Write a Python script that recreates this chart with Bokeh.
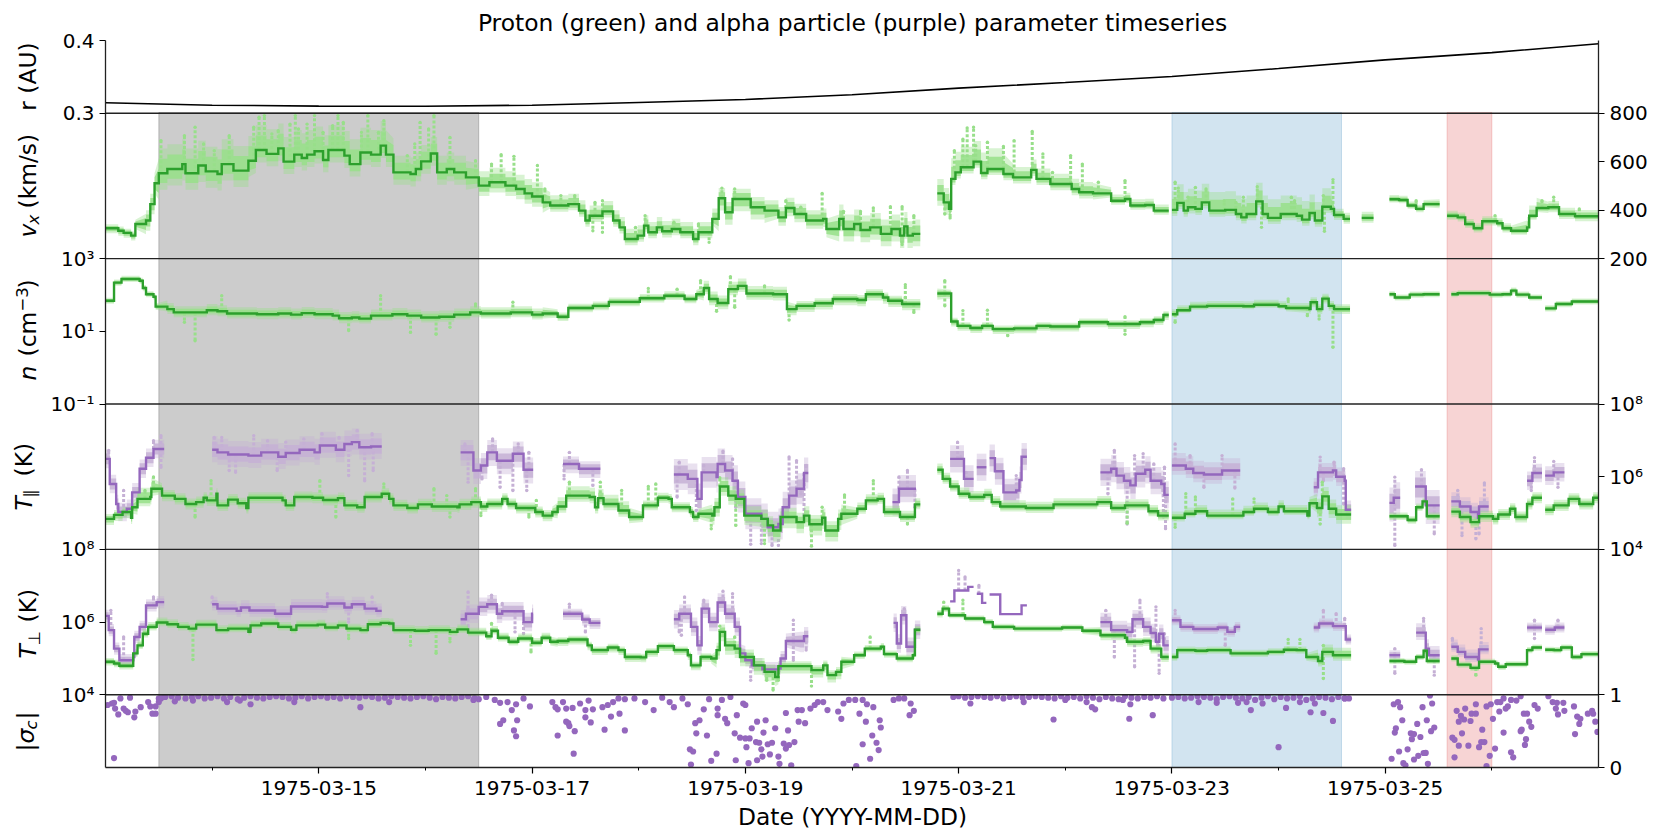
import math
import numpy as np
import pandas as pd
from bokeh.embed import file_html
from bokeh.resources import INLINE
from bokeh.plotting import figure
from bokeh.models import (Range1d, LinearAxis, LogScale, FixedTicker, Label,
                          DatetimeTickFormatter)

# ---------------- data (days since 1975-03-13 00:00) ----------------
r_au = [(0,.3144),(1,.3110),(2,.3098),(3,.3096),(4,.3110),(5,.3148),(6,.3189),(7,.3253),(8,.3345),
        (9,.3422),(10,.3504),(11,.3614),(12,.3733),(13,.3833),(14,.3956)]

vx_seg1 = [(0,325),(.12,315),(.17,306),(.24,295),(.28,343),(.38,357),(.42,425),(.46,511),(.5,552),(.58,570),(.72,590),(.75,552),(.87,584),(.94,560),(1.05,549),(1.09,590),(1.2,563),(1.34,604),(1.41,648),(1.51,632),(1.62,655),(1.67,600),(1.77,629),(1.84,615),(1.89,629),(1.96,643),(2.04,607),(2.09,648),(2.24,625),(2.29,590),(2.39,638),(2.49,629),(2.58,666),(2.63,629),(2.7,556),(2.86,549),(2.91,570),(2.96,601),(3.05,634),(3.11,556),(3.2,570),(3.27,556),(3.38,535),(3.5,501),(3.6,515),(3.75,501),(3.85,487),(3.93,469),(4.0,456),(4.1,432),(4.17,419),(4.34,425),(4.44,398),(4.5,357),(4.54,377),(4.66,395),(4.76,357),(4.82,329),(4.87,281),(4.99,295),(5.05,336),(5.09,309),(5.17,329),(5.22,313),(5.31,322),(5.39,309),(5.51,281),(5.56,309),(5.69,364),(5.75,449),(5.81,391),(5.88,446),(6.05,412),(6.18,398),(6.31,370),(6.38,409),(6.46,384),(6.57,357),(6.73,364),(6.76,322),(6.88,364),(6.92,322),(7.02,343),(7.08,318),(7.17,329),(7.27,302),(7.37,322),(7.45,295),(7.49,333),(7.52,295),(7.57,302),(7.64,302)]
vx_seg2 = [(7.8,469),(7.86,432),(7.91,405),(7.93,529),(7.97,556),(8.02,577),(8.14,600),(8.21,553),(8.27,570),(8.42,549),(8.51,535),(8.68,566),(8.73,529),(8.86,508),(9.06,487),(9.13,474),(9.26,469),(9.43,439),(9.56,446),(9.61,419),(9.75,421),(9.83,398),(9.97,391)]
vx_seg3 = [(10.0,401),(10.05,430),(10.11,398),(10.15,412),(10.22,405),(10.28,432),(10.35,398),(10.5,401),(10.6,384),(10.65,370),(10.7,384),(10.79,436),(10.85,384),(10.9,368),(11.02,384),(11.17,377),(11.22,361),(11.29,388),(11.34,357),(11.41,414),(11.49,405),(11.52,380),(11.61,364),(11.67,364)]
vx_seg4 = [(11.78,368),(11.89,368)]
vx_seg5 = [(12.04,445),(12.13,442),(12.21,419),(12.29,405),(12.36,425),(12.51,409)]
vx_seg6 = [(12.58,377),(12.68,370),(12.75,343),(12.83,325),(12.91,354),(13.05,346),(13.1,325),(13.18,315),(13.33,329),(13.35,377),(13.42,409),(13.53,412),(13.63,384),(13.78,375),(14,364)]
vx_spread = [(0,12,10),(.3,25,25),(.5,40,60),(1.35,30,60),(2.7,30,40),(3.5,25,35),(4.17,15,25),(5.7,30,25),(6.3,20,25),(6.8,30,35),(7.93,15,50),(8.5,15,25),(9.35,10,15),(10,15,45),(11.5,12,15),(12,8,10),(12.5,10,12),(13.3,10,25),(13.5,12,15)]
vx_spikes = [(.52,687),(.74,707),(.84,742),(.92,673),(1.02,645),(1.16,707),(1.39,742),(1.44,783),(1.49,790),(1.56,714),(1.62,728),(1.73,755),(1.78,790),(1.81,735),(1.89,755),(1.96,790),(2.04,721),(2.13,748),(2.18,790),(2.23,762),(2.4,721),(2.46,790),(2.56,721),(2.61,769),(2.83,625),(2.9,673),(2.95,762),(3.03,735),(3.08,790),(3.23,700),(3.47,604),(3.62,590),(3.71,629),(3.83,622),(4.05,584),(4.12,487),(4.27,460),(4.4,460),(4.59,432),(4.66,439),(4.66,309),(4.57,315),(5.06,377),(4.97,329),(5.33,350),(5.56,343),(5.66,267),(5.78,491),(5.9,487),(6.38,439),(6.52,412),(6.72,469),(6.92,395),(7.08,395),(7.2,409),(7.36,414),(7.47,414),(7.58,377),(7.47,258),(7.96,645),(8.04,693),(8.08,739),(8.14,742),(8.16,666),(8.27,680),(8.42,663),(8.52,687),(8.69,725),(8.79,632),(8.88,556),(9.05,625),(9.16,590),(9.31,515),(7.87,384),(7.92,368),(9.56,522),(10.03,515),(10.06,491),(10.15,453),(10.22,494),(10.32,487),(10.49,439),(10.6,432),(10.67,453),(10.8,497),(10.84,329),(11.12,453),(11.15,439),(11.42,460),(11.51,526),(11.43,313),(13.03,377),(13.47,439),(13.58,453),(13.82,405),(12.29,439)]

n_seg1 = [(0,1.84),(.08,2.34),(.15,2.44),(.32,2.39),(.35,2.19),(.38,2.02),(.45,1.95),(.47,1.68),(.58,1.61),(.64,1.52),(.87,1.52),(.95,1.58),(1.05,1.55),(1.14,1.49),(1.42,1.47),(1.62,1.49),(1.74,1.46),(1.84,1.50),(1.96,1.47),(2.13,1.43),(2.19,1.36),(2.31,1.38),(2.38,1.35),(2.49,1.43),(2.69,1.47),(2.83,1.43),(2.96,1.38),(3.13,1.40),(3.27,1.46),(3.42,1.52),(3.52,1.49),(3.8,1.52),(4.0,1.46),(4.1,1.49),(4.24,1.40),(4.34,1.64),(4.57,1.70),(4.72,1.81),(5.01,1.91),(5.24,1.98),(5.43,1.89),(5.54,2.02),(5.61,2.19),(5.66,1.89),(5.74,1.78),(5.84,2.16),(5.93,2.25),(6.01,2.04),(6.26,2.02),(6.39,1.61),(6.48,1.70),(6.65,1.77),(6.82,1.89),(7.05,1.86),(7.13,2.02),(7.29,1.93),(7.34,1.84),(7.47,1.75),(7.64,1.73)]
n_seg2 = [(7.8,2.04),(7.93,1.27),(7.99,1.15),(8.11,1.09),(8.22,1.15),(8.32,1.06),(8.52,1.08),(8.73,1.15),(8.86,1.13),(9.13,1.25),(9.4,1.20),(9.7,1.25),(9.83,1.31),(9.92,1.45),(9.97,1.45)]
n_seg3 = [(10,1.47),(10.05,1.58),(10.17,1.68),(10.33,1.70),(10.67,1.69),(10.77,1.73),(11.0,1.69),(11.07,1.64),(11.29,1.61),(11.3,1.80),(11.36,1.61),(11.41,1.90),(11.47,1.70),(11.52,1.61),(11.67,1.63)]
n_seg4 = [(12.04,2.02),(12.09,1.93),(12.23,2.01),(12.36,2.02),(12.51,1.99)]
n_seg5 = [(12.62,2.02),(12.68,2.05),(12.98,2.01),(13.1,2.02),(13.18,2.12),(13.23,2.01),(13.35,1.93),(13.47,1.77)]
n_seg6 = [(13.5,1.63),(13.6,1.75),(13.75,1.82),(14,1.80)]
n_spread = [(0,.05,.05),(.5,.08,.1),(4.2,.07,.07),(5.6,.1,.12),(6.4,.1,.08),(7.9,.08,.06),(10,.05,.08),(11.2,.08,.08),(12,.05,.05)]
n_spikes = [(1.09,1.98),(2.58,1.98),(.84,.74),(2.86,.97),(3.1,.92),(2.28,1.02),(3.23,1.11),(3.47,1.75),(3.82,1.80),(.74,1.25),(5.09,2.18),(5.36,2.16),(5.58,2.39),(5.73,1.55),(5.86,2.50),(5.9,1.66),(6.41,1.31),(6.18,2.25),(7.5,2.28),(7.5,1.93),(7.87,2.39),(7.87,1.70),(8.04,1.57),(8.27,1.58),(8.46,.88),(7.58,1.52),(9.56,.92),(9.56,1.40),(10.03,1.25),(11.09,1.89),(11.38,1.34),(11.51,.56),(11.27,1.43)]

tpar_p_seg1 = [(0,4.84),(.08,4.95),(.16,5.03),(.24,4.87),(.25,5.16),(.30,5.39),(.42,5.44),(.43,5.67),(.53,5.48),(.65,5.39),(.75,5.25),(.85,5.30),(.92,5.42),(.95,5.35),(1.04,5.53),(1.05,5.21),(1.15,5.37),(1.24,5.27),(1.32,5.14),(1.34,5.42),(1.51,5.42),(1.66,5.35),(1.69,5.21),(1.77,5.44),(1.94,5.42),(2.04,5.36),(2.18,5.41),(2.24,5.21),(2.36,5.16),(2.43,5.44),(2.59,5.53),(2.66,5.39),(2.7,5.21),(2.83,5.14),(2.93,5.24),(3.06,5.18),(3.3,5.16),(3.32,5.24),(3.43,5.30),(3.52,5.18),(3.58,5.25),(3.72,5.39),(3.77,5.25),(3.85,5.14),(4.03,5.03),(4.1,4.93),(4.19,5.03),(4.24,5.18),(4.32,5.48),(4.54,5.44),(4.59,5.16),(4.62,5.41),(4.67,5.25),(4.81,5.07),(4.91,4.89),(5.04,5.21),(5.18,5.42),(5.28,5.39),(5.31,5.16),(5.48,5.03),(5.51,4.89),(5.56,4.98),(5.69,4.93),(5.71,5.16),(5.76,5.73),(5.84,5.48),(5.91,5.39),(5.99,4.93),(6.15,4.84),(6.21,4.66),(6.26,4.52),(6.33,4.89),(6.48,4.75),(6.55,4.93),(6.6,4.69),(6.72,4.87),(6.75,4.52),(6.87,4.84),(6.9,4.98),(7.05,5.12),(7.13,5.35),(7.24,5.39),(7.3,5.03),(7.45,4.89),(7.59,5.24),(7.64,5.24)]
tpar_p_seg2 = [(7.8,6.19),(7.85,5.94),(7.92,5.73),(8.0,5.53),(8.1,5.44),(8.24,5.50),(8.31,5.30),(8.39,5.18),(8.63,5.14),(8.89,5.24),(9.16,5.24),(9.3,5.30),(9.43,5.14),(9.56,5.21),(9.78,5.05),(9.87,4.93),(9.97,4.93)]
tpar_p_seg3 = [(10,4.87),(10.12,4.98),(10.22,5.05),(10.33,4.93),(10.67,5.03),(10.77,5.12),(10.9,5.03),(11.0,5.18),(11.05,5.05),(11.27,4.93),(11.29,5.27),(11.36,5.14),(11.41,5.46),(11.47,5.12),(11.54,4.96),(11.68,4.96)]
tpar_p_seg4 = [(12.04,4.91),(12.21,4.81),(12.29,5.16),(12.35,5.32),(12.39,4.91),(12.51,5.0)]
tpar_p_seg5 = [(12.62,5.04),(12.7,4.89),(12.8,4.75),(12.88,4.91),(13.01,4.84),(13.06,4.96),(13.17,5.12),(13.22,4.89),(13.33,5.25),(13.38,5.42),(13.47,5.33)]
tpar_p_seg6 = [(13.5,5.09),(13.58,5.21),(13.72,5.39),(13.82,5.25),(13.95,5.42),(14,5.25)]
tpar_p_spread = [(0,.1,.08),(.3,.12,.18),(.5,.09,.09),(4.2,.1,.15),(5.0,.08,.08),(5.6,.15,.15),(6,.18,.15),(7,.08,.1),(7.9,.08,.1),(10,.06,.1),(11.3,.15,.15),(11.7,.06,.06),(12.6,.09,.09)]
tpar_p_spikes = [(.45,5.99),(.37,5.62),(.99,5.89),(2.01,5.89),(2.61,5.80),(3.08,5.67),(3.2,5.48),(3.47,5.67),(3.52,4.93),(4.04,5.35),(3.97,4.89),(3.23,4.89),(2.16,4.89),(.84,4.89),(4.35,5.85),(4.64,5.85),(4.84,5.62),(5.09,5.73),(5.16,5.80),(5.76,5.97),(5.91,4.66),(6.18,4.16),(6.62,4.09),(5.68,4.57),(6.72,5.16),(6.93,5.50),(7.2,5.89),(7.52,4.70),(10.13,5.53),(10.22,5.44),(10.77,5.39),(11.41,5.85),(11.39,4.70),(10.03,4.61),(10.57,5.39),(9.58,4.72)]

a_tpar_seg1 = [(0,6.49),(.04,5.80),(.10,5.25),(.12,5.03),(.2,5.12),(.25,5.57),(.32,6.22),(.38,6.52),(.45,6.76),(.55,6.72)]
a_tpar_seg2 = [(1.0,6.74),(1.05,6.67),(1.15,6.61),(1.34,6.58),(1.46,6.67),(1.62,6.55),(1.69,6.65),(1.82,6.74),(1.96,6.67),(2.01,6.86),(2.16,6.74),(2.24,6.90),(2.31,6.95),(2.38,6.81),(2.49,6.83),(2.59,6.69)]
a_tpar_seg3 = [(3.33,6.67),(3.45,6.17),(3.52,6.31),(3.58,6.67),(3.67,6.44),(3.82,6.63),(3.92,6.19),(4.01,6.44)]
a_tpar_seg4 = [(4.29,6.35),(4.44,6.22),(4.64,6.19)]
a_tpar_seg5 = [(5.33,6.06),(5.46,5.94),(5.55,5.39),(5.59,6.12),(5.73,5.99),(5.74,6.35),(5.81,6.17),(5.88,5.89),(5.93,5.44),(6.0,4.98),(6.15,4.84),(6.21,4.61),(6.31,4.70),(6.35,5.16),(6.41,5.48),(6.48,5.67),(6.55,6.10),(6.59,6.10)]
a_tpar_seg6 = [(7.38,5.30),(7.44,5.67),(7.6,5.60)]
a_tpar_seg7 = [(7.92,6.49),(8.05,5.94),(8.14,6.0)]
a_tpar_seg8 = [(8.17,6.26),(8.26,6.26)]
a_tpar_seg9 = [(8.29,6.51),(8.34,6.15),(8.42,5.57),(8.54,5.62),(8.57,5.91),(8.59,6.55),(8.64,6.55)]
a_tpar_seg10 = [(9.33,6.12),(9.43,6.22),(9.48,6.03),(9.55,5.89),(9.61,5.76),(9.66,6.08),(9.75,6.19),(9.8,5.89),(9.9,5.80),(9.93,5.50),(9.97,5.50)]
a_tpar_seg11 = [(10,6.31),(10.13,6.22),(10.2,6.10),(10.3,6.06),(10.47,6.17),(10.64,6.14)]
a_tpar_seg12 = [(11.33,5.71),(11.37,6.12),(11.51,6.17),(11.54,6.0),(11.62,5.89),(11.63,5.09),(11.68,5.09)]
a_tpar_seg13 = [(12.04,5.28),(12.08,5.42),(12.14,5.42)]
a_tpar_seg14 = [(12.28,5.73),(12.38,5.21),(12.51,5.16)]
a_tpar_seg15 = [(12.62,5.32),(12.7,5.18),(12.8,5.03),(12.87,4.87),(12.88,5.18),(12.97,5.23)]
a_tpar_seg16 = [(13.33,5.89),(13.38,6.10),(13.47,5.97)]
a_tpar_seg17 = [(13.5,6.03),(13.58,6.12),(13.68,6.12)]
a_tpar_spread = [(0,.15,.15),(.5,.15,.15),(1,.2,.22),(3.3,.22,.2),(4.2,.15,.12),(5.3,.25,.25),(6.3,.25,.25),(7.3,.22,.22),(9.3,.22,.22),(10,.15,.2),(11.3,.15,.15),(12,.3,.25),(12.6,.15,.15)]
a_tpar_spikes = [(.03,6.72),(.17,5.62),(.45,6.99),(.52,7.13),(.52,6.26),(1.02,7.08),(1.09,7.08),(1.16,6.17),(1.22,6.12),(1.39,7.13),(1.52,6.99),(1.61,6.17),(1.69,6.95),(1.86,7.04),(2.03,7.18),(2.19,7.08),(2.28,6.03),(2.36,7.27),(2.43,5.89),(2.5,7.18),(2.51,6.17),(3.37,6.9),(3.4,5.85),(3.53,5.94),(3.63,7.04),(3.7,5.71),(3.82,5.62),(3.87,6.90),(3.95,5.62),(3.97,6.67),(4.35,6.67),(4.3,5.94),(4.57,5.76),(5.38,6.40),(5.36,5.44),(5.54,5.07),(5.61,6.31),(5.79,6.70),(5.88,6.49),(5.91,5.16),(6.05,4.14),(6.15,4.16),(6.25,4.11),(6.31,4.11),(6.41,6.54),(6.48,6.44),(6.57,6.31),(6.52,5.53),(6.55,4.89),(7.44,5.99),(7.52,6.17),(7.59,5.16),(7.99,6.95),(8.02,6.54),(8.07,6.12),(8.54,6.03),(9.46,6.72),(9.4,5.53),(9.58,4.70),(9.65,6.58),(9.73,6.63),(9.83,6.35),(9.93,6.26),(9.94,4.57),(9.92,4.89),(10.03,6.90),(10.17,6.58),(10.3,5.71),(10.47,6.58),(10.59,5.69),(11.39,6.54),(11.42,5.89),(11.52,6.40),(11.61,6.22),(11.61,5.25),(12.09,5.99),(12.09,4.11),(12.34,6.19),(12.46,4.43),(12.68,5.62),(12.72,4.38),(12.85,4.29),(12.93,5.83),(12.88,4.43),(13.4,6.52),(13.37,5.62),(13.58,6.42),(13.62,5.71)]

tperp_p_seg1 = [(0,4.91),(.08,4.86),(.13,4.80),(.26,5.14),(.3,5.36),(.35,5.68),(.4,5.87),(.48,5.99),(.58,5.94),(.68,5.87),(.78,5.82),(.85,5.93),(1.04,5.78),(1.15,5.82),(1.34,5.73),(1.36,5.91),(1.46,5.96),(1.62,5.87),(1.74,5.79),(1.79,5.91),(1.99,5.93),(2.06,5.85),(2.18,5.91),(2.26,5.82),(2.39,5.78),(2.46,5.94),(2.58,5.98),(2.66,5.96),(2.7,5.78),(2.9,5.76),(3.03,5.78),(3.23,5.73),(3.3,5.80),(3.4,5.71),(3.57,5.61),(3.62,5.76),(3.68,5.57),(3.78,5.46),(3.87,5.55),(4.0,5.43),(4.09,5.57),(4.17,5.46),(4.24,5.48),(4.34,5.52),(4.52,5.36),(4.56,5.23),(4.71,5.30),(4.81,5.23),(4.87,5.04),(5.02,5.03),(5.07,5.18),(5.18,5.34),(5.33,5.23),(5.46,5.09),(5.49,4.81),(5.58,5.04),(5.68,5.0),(5.73,5.23),(5.76,5.73),(5.81,5.36),(5.9,5.27),(5.95,5.04),(6.08,4.81),(6.18,4.63),(6.28,4.49),(6.31,4.79),(6.52,4.79),(6.62,4.68),(6.73,4.81),(6.77,4.54),(6.85,4.63),(6.9,4.91),(7.02,5.09),(7.12,5.27),(7.27,5.32),(7.3,5.12),(7.42,5.0),(7.57,5.09),(7.59,5.79),(7.64,5.79)]
tperp_p_seg2 = [(7.8,6.23),(7.85,6.37),(7.91,6.19),(8.06,6.10),(8.24,6.0),(8.32,5.87),(8.52,5.82),(8.97,5.85),(9.16,5.76),(9.33,5.64),(9.56,5.57),(9.58,5.46),(9.73,5.48),(9.8,5.27),(9.9,5.04),(9.97,5.0)]
tperp_p_seg3 = [(10,5.04),(10.05,5.23),(10.22,5.21),(10.33,5.23),(10.55,5.14),(10.9,5.18),(11.05,5.24),(11.17,5.23),(11.26,5.04),(11.37,4.93),(11.41,5.18),(11.51,5.09),(11.68,5.09)]
tperp_p_seg4 = [(12.04,4.93),(12.18,4.91),(12.29,5.04),(12.36,5.21),(12.39,4.93),(12.51,4.91)]
tperp_p_seg5 = [(12.62,5.0),(12.68,4.83),(12.8,4.74),(12.88,4.91),(13.03,4.86),(13.06,4.77),(13.13,4.84),(13.33,5.23),(13.38,5.30),(13.47,5.30)]
tperp_p_seg6 = [(13.5,5.24),(13.58,5.23),(13.65,5.30),(13.75,5.04),(13.84,5.12),(14,5.09)]
tperp_p_spread = [(0,.06,.06),(.3,.06,.08),(4.2,.08,.06),(5.7,.15,.12),(6.3,.12,.08),(7,.06,.06),(7.9,.05,.05),(9.3,.08,.06),(10,.06,.06),(11.3,.09,.12),(11.7,.05,.05),(13.5,.05,.05)]
tperp_p_spikes = [(.82,4.97),(2.28,5.55),(2.86,5.36),(3.1,5.14),(3.23,5.46),(3.62,5.96),(3.99,5.18),(5.76,5.89),(5.9,5.59),(6.26,4.13),(6.62,4.24),(6.31,4.40),(6.2,4.40),(7.17,5.59),(7.86,6.55),(8.04,6.60),(11.09,5.52),(11.2,5.52),(11.42,5.36),(11.42,4.45),(12.85,4.54)]

a_tperp_seg1 = [(0,6.17),(.03,5.78),(.08,5.27),(.13,4.95),(.26,5.04),(.27,5.59),(.32,5.87),(.38,6.46),(.48,6.55),(.55,6.55)]
a_tperp_seg2 = [(1.0,6.49),(1.05,6.37),(1.23,6.31),(1.27,6.40),(1.35,6.32),(1.59,6.23),(1.74,6.43),(2.03,6.42),(2.08,6.51),(2.24,6.40),(2.31,6.49),(2.43,6.37),(2.54,6.31),(2.59,6.43)]
a_tperp_seg3 = [(3.33,6.08),(3.38,6.23),(3.5,6.42),(3.58,6.49),(3.67,6.23),(3.72,6.30),(3.92,6.0),(4.0,6.23),(4.01,6.23)]
a_tperp_seg4 = [(4.29,6.23),(4.47,6.07),(4.54,5.98),(4.64,5.98)]
a_tperp_seg5 = [(5.33,6.08),(5.38,6.23),(5.49,5.87),(5.55,5.36),(5.59,6.37),(5.66,6.0),(5.74,6.54),(5.81,6.23),(5.9,5.87),(5.95,5.14),(6.0,4.95),(6.06,4.81),(6.16,4.70),(6.31,4.72),(6.33,5.0),(6.38,5.48),(6.52,5.48),(6.55,5.61),(6.59,5.61)]
a_tperp_seg6 = [(7.39,5.98),(7.42,5.41),(7.46,6.19),(7.51,5.32),(7.59,5.79),(7.64,5.79)]
a_tperp_seg7 = [(7.92,6.57),(7.96,6.87),(8.09,6.97),(8.14,6.74)]
a_tperp_seg8 = [(8.17,6.78),(8.22,6.53),(8.26,6.53)]
a_tperp_seg9 = [(8.29,6.76),(8.39,6.22),(8.59,6.46),(8.64,6.46)]
a_tperp_seg10 = [(9.33,6.0),(9.43,5.78),(9.58,5.73),(9.63,6.08),(9.73,5.87),(9.8,5.70),(9.85,5.46),(9.88,5.68),(9.92,5.36),(9.97,5.36)]
a_tperp_seg11 = [(10,6.05),(10.08,5.87),(10.2,5.81),(10.43,5.85),(10.52,5.73),(10.59,5.87),(10.64,5.87)]
a_tperp_seg12 = [(11.33,5.85),(11.38,5.96),(11.51,5.89),(11.63,5.52),(11.68,5.52)]
a_tperp_seg13 = [(12.04,5.09),(12.14,5.09)]
a_tperp_seg14 = [(12.29,5.71),(12.38,5.27),(12.41,5.09),(12.51,5.09)]
a_tperp_seg15 = [(12.62,5.32),(12.68,5.18),(12.75,5.04),(12.87,4.97),(12.88,5.25),(12.97,5.25)]
a_tperp_seg16 = [(13.33,5.85),(13.47,5.85)]
a_tperp_seg17 = [(13.5,5.79),(13.59,5.85),(13.68,5.94)]
a_tperp_spread = [(0,.1,.1),(1,.1,.12),(3.3,.15,.15),(4.2,.1,.08),(5.3,.15,.15),(6,.1,.12),(6.4,.18,.15),(7.3,.15,.15),(7.9,.0,.0),(9.3,.15,.15),(10,.08,.08),(11.3,.08,.08),(12,.08,.08),(12.28,.12,.15),(12.6,.08,.12),(13.3,.08,.08)]
a_tperp_spikes = [(.05,6.32),(.17,5.59),(.45,6.69),(1.0,6.69),(2.08,6.78),(2.5,6.69),(2.28,6.0),(3.4,6.83),(3.62,6.74),(3.72,6.51),(3.84,5.73),(3.92,5.68),(3.4,5.87),(4.35,6.49),(4.5,5.73),(5.43,6.69),(5.38,5.73),(5.4,5.64),(5.61,6.60),(5.79,6.85),(5.88,6.78),(6.05,4.40),(6.45,6.05),(6.45,4.95),(6.57,5.23),(7.49,6.37),(8.0,7.42),(8.06,7.24),(8.19,7.01),(9.38,6.32),(9.7,6.60),(9.85,6.42),(9.46,5.04),(9.65,4.77),(9.88,4.59),(9.93,5.68),(10.03,6.32),(10.5,5.36),(11.42,6.32),(11.54,6.23),(11.62,6.10),(12.09,5.27),(12.09,4.59),(12.36,6.10),(12.46,4.54),(12.63,5.55),(12.9,5.82),(13.4,6.05),(13.4,5.55),(13.62,6.05)]

sigma_top_row_t = [.5,.56,.62,.68,.75,.81,.87,.93,.99,1.05,1.11,1.17,1.24,1.3,1.36,1.42,1.48,1.54,1.6,1.66,1.72,1.78,1.84,1.9,1.96,2.02,2.08,2.14,2.2,2.26,2.32,2.38,2.44,2.5,2.56,2.62,2.68,2.74,2.8,2.86,2.92,2.98,3.04,3.1,3.16,3.22,3.28,3.34,3.4,3.46,3.5,
                   7.95,8.0,8.06,8.12,8.18,8.24,8.3,8.36,8.42,8.48,8.54,8.6,8.66,8.72,8.78,8.84,8.9,8.96,9.02,9.08,9.14,9.2,9.26,9.32,9.38,9.44,9.5,9.56,9.62,9.68,9.74,9.8,9.86,9.92,
                   10.0,10.06,10.12,10.18,10.24,10.3,10.36,10.42,10.48,10.54,10.6,10.66,10.72,10.78,10.84,10.9,10.96,11.02,11.08,11.14,11.2,11.26,11.32,11.38,11.44,11.5,11.56,11.62,11.66]
sigma_top_row_v = [.95,.97,.98,.96,.95,.97,.98,.95,.96,.98,.95,.97,.94,.96,.98,.96,.95,.97,.98,.97,.95,.96,.98,.95,.97,.98,.96,.97,.95,.98,.97,.96,.98,.97,.95,.96,.98,.97,.96,.95,.97,.98,.96,.94,.97,.96,.95,.97,.98,.95,.94,
                   .97,.98,.96,.97,.98,.97,.96,.98,.95,.97,.98,.96,.97,.98,.97,.96,.95,.98,.96,.97,.95,.98,.96,.94,.97,.95,.94,.98,.96,.95,.97,.96,.98,.95,
                   .96,.97,.95,.96,.98,.97,.96,.94,.97,.98,.96,.95,.97,.93,.96,.98,.94,.97,.95,.96,.98,.93,.95,.97,.96,.94,.97,.95,.95]
sigma_pts = [(.02,.86),(.06,.88),(.08,.89),(.09,.81),(.12,.73),(.17,.81),(.19,.78),(.21,.76),(.27,.69),(.28,.77),(.33,.83),(.4,.90),(.42,.84),(.44,.74),(.47,.74),(.47,.84),(.5,.90),(.52,.95),(.55,.97),(.65,.91),(.82,.92),(1.14,.90),(1.26,.92),(1.36,.87),(1.77,.90),(2.39,.83),(2.66,.90),(3.45,.93),(3.65,.93),(3.7,.89),(3.77,.90),(3.85,.87),(3.92,.95),(3.98,.84),(3.81,.79),(3.73,.65),(3.7,.60),(3.86,.65),(3.83,.51),(3.85,.43),(4.24,.44),(4.22,.83),(.08,.13),(.14,.95),(.23,.96),(3.57,.97),
             (4.19,.90),(4.24,.80),(4.29,.90),(4.32,.81),(4.38,.82),(4.45,.88),(4.5,.79),(4.53,.92),(4.57,.80),(4.66,.83),(4.71,.86),(4.76,.90),(4.81,.95),(4.87,.94),(4.96,.95),(5.06,.90),(5.14,.79),(5.22,.96),(5.29,.90),(5.33,.83),(5.41,.95),(5.46,.87),(4.32,.63),(4.34,.61),(4.35,.57),(4.4,.50),(4.5,.69),(4.55,.62),(4.68,.52),(4.87,.51),(4.74,.70),(4.82,.74),(4.39,.19),
             (5.53,.61),(5.57,.65),(5.54,.47),(5.64,.44),(5.61,.80),(5.66,.94),(5.74,.81),(5.74,.72),(5.81,.67),(5.83,.61),(5.78,.93),(5.86,.97),(5.92,.72),(5.9,.47),(5.98,.88),(6.0,.86),(5.95,.41),(6.0,.40),(6.04,.40),(6.06,.54),(6.11,.63),(6.19,.65),(6.17,.48),(6.28,.54),(6.4,.51),(6.1,.35),(6.13,.34),(6.21,.32),(6.25,.34),(6.36,.33),(6.46,.35),(6.41,.31),(6.38,.26),(6.15,.25),(6.01,.28),(5.48,.25),(5.51,.22),(5.73,.19),(5.68,.09),(5.49,.04),(5.91,.10),(6.03,.06),(6.11,.10),(6.16,.15),(6.23,.18),(6.31,.15),(6.32,.05),(6.43,.03),
             (6.38,.75),(6.49,.79),(6.53,.79),(6.5,.63),(6.56,.61),(6.61,.81),(6.65,.86),(6.68,.90),(6.73,.90),(6.77,.79),(6.87,.77),(6.9,.67),(6.92,.88),(6.97,.93),(7.03,.93),(7.1,.93),(7.14,.87),(7.07,.74),(7.2,.83),(7.13,.63),(7.26,.65),(7.27,.55),(7.19,.44),(7.23,.34),(7.1,.32),(7.25,.24),(7.17,.12),(7.04,.02),(7.39,.93),(7.44,.95),(7.49,.95),(7.55,.88),(7.58,.78),(7.54,.72),
             (8.11,.88),(8.89,.66),(8.61,.90),(9.0,.93),(9.2,.90),(9.25,.83),(9.28,.80),(9.6,.67),(9.61,.87),(9.82,.72),(9.54,.93),(10.25,.90),(10.42,.89),(10.62,.89),(10.7,.90),(10.74,.79),(10.85,.88),(11.0,.28),(11.07,.82),(11.2,.90),(11.3,.76),(11.34,.88),(11.42,.75),(11.51,.64),(11.62,.95),
             (12.06,.12),(12.08,.87),(12.12,.90),(12.14,.83),(12.16,.65),(12.1,.54),(12.09,.48),(12.13,.22),(12.21,.25),(12.17,.06),(12.19,.03),(12.27,.11),(12.31,.16),(12.36,.20),(12.38,.20),(12.24,.47),(12.27,.46),(12.25,.39),(12.33,.42),(12.3,.60),(12.39,.65),(12.35,.83),(12.44,.88),(12.42,.99),(12.46,.55),(12.43,.50),(12.4,.05),
             (12.65,.14),(12.63,.41),(12.65,.38),(12.69,.30),(12.78,.30),(12.88,.28),(12.9,.35),(12.93,.35),(12.98,.16),(12.95,.02),(12.72,.47),(12.91,.52),(12.8,.64),(12.69,.63),(12.67,.78),(12.71,.71),(12.74,.66),(12.75,.81),(12.81,.74),(12.85,.74),(12.85,.87),(12.95,.84),(12.99,.87),(13.01,.67),(13.03,.26),(13.07,.77),(13.05,.90),(13.13,.81),(13.15,.84),(13.11,.48),(13.18,.21),(13.2,.14),(13.08,.90),(13.11,.95),(13.18,.93),(13.23,.92),(13.27,.98),(13.3,.74),(13.33,.74),(13.27,.50),(13.28,.52),(13.32,.39),(13.31,.31),(13.35,.63),(13.37,.56),(13.4,.86),(13.43,.81),(13.53,.98),(13.57,.90),(13.61,.89),(13.67,.89),(13.68,.78),(13.62,.73),(13.6,.81),(13.77,.84),(13.8,.70),(13.83,.67),(13.82,.60),(13.78,.46),(13.9,.74),(13.94,.78),(13.95,.74),(13.97,.63),(13.99,.49)]

shade_gray = (.5, 3.5)
shade_blue = (10.0, 11.59)
shade_red = (12.58, 13.0)

major_days = [2,4,6,8,10,12]
minor_days = [1,3,5,7,9,11,13]

# ---------------- page layout ----------------
# The frame fills the whole page, so that annotations are not clipped; the axes are pinned in place inside it.
W, H = 1653, 832
F_L, F_T, F_W, F_H = 105, 40, 1493, 727
PX_DAY, PX_UNIT = F_W/14, F_H/10
DMIN, DMAX = -F_L/PX_DAY, 14 + (W-F_L-F_W)/PX_DAY
YMIN, YMAX = -(H-F_T-F_H)/PX_UNIT, 10 + F_T/PX_UNIT
DAY = 86400000.0
X0 = pd.Timestamp("1975-03-13").timestamp() * 1000.0
def X(d): return X0 + np.asarray(d, dtype=float) * DAY
X14 = float(X(14))

GREEN, L_GREEN = "#2ca02c", "#98df8a"
PURPLE, L_PURPLE = "#9467bd", "#c5b0d5"
FONT = "DejaVu Sans"
TICK_SIZE = "20px"

p = figure(width=W, height=H, output_backend="svg", toolbar_location=None,
           x_axis_type="datetime", x_range=Range1d(float(X(DMIN)), float(X(DMAX))), y_range=Range1d(YMIN, YMAX),
           min_border_left=0, min_border_right=0, min_border_top=0, min_border_bottom=0,
           outline_line_color=None, background_fill_color="white")
p.grid.visible = False

# panels share the frame in units of a master axis (0..10 = panel stack); each gets its own scale
def lin_range(a, b, lo, hi):
    s = (hi-lo)/(b-a)
    return Range1d(lo - s*(a-YMIN), hi + s*(YMAX-b))
def log_range(a, b, lo, hi):
    l0, l1 = math.log10(lo), math.log10(hi)
    s = (l1-l0)/(b-a)
    return Range1d(10**(l0 - s*(a-YMIN)), 10**(l1 + s*(YMAX-b)))

p.extra_y_ranges = {"r": lin_range(9, 10, .3, .4), "vx": lin_range(7, 9, 200, 800),
                    "n": log_range(5, 7, .1, 1000), "tpar": log_range(3, 5, 1e4, 1e8),
                    "tperp": log_range(1, 3, 1e4, 1e8), "sig": lin_range(0, 1, 0, 1)}
p.extra_y_scales = {"n": LogScale(), "tpar": LogScale(), "tperp": LogScale()}

# axes
def style_y(ax, ticks, labels, loc):
    ax.fixed_location = loc
    ax.bounds = (0, 10)
    ax.ticker = FixedTicker(ticks=ticks, minor_ticks=[])
    ax.major_label_overrides = labels
    ax.major_tick_out, ax.major_tick_in = 6, 0
    ax.minor_tick_out, ax.minor_tick_in = 0, 0
    ax.major_label_standoff = 5
    ax.major_label_text_font = FONT
    ax.major_label_text_font_size = TICK_SIZE
    ax.major_label_text_color = "black"
    ax.axis_line_width = 1.3
    ax.major_tick_line_width = 1.2
    ax.axis_line_color = "#222222"

la = p.yaxis[0]
style_y(la, [10, 9, 7, 6, 5, 3, 2, 1],
        {10: "0.4", 9: "0.3", 7: "10³", 6: "10¹", 5: "10⁻¹", 3: "10⁸", 2: "10⁶", 1: "10⁴"}, X0)
ra = LinearAxis()
p.add_layout(ra, "right")
t600, t400 = 7 + 4/3, 7 + 2/3
style_y(ra, [9, t600, t400, 7, 5, 4, 3, 1, 0],
        {9: "800", t600: "600", t400: "400", 7: "200", 5: "10⁸", 4: "10⁶", 3: "10⁴", 1: "1", 0: "0"}, X14)

xa = p.xaxis[0]
xa.fixed_location = 0
xa.bounds = (X0, X14)
xa.ticker = FixedTicker(ticks=[float(X(d)) for d in major_days], minor_ticks=[float(X(d)) for d in minor_days])
fmt = "%Y-%m-%d"
xa.formatter = DatetimeTickFormatter(microseconds=fmt, milliseconds=fmt, seconds=fmt, minsec=fmt, minutes=fmt,
                                     hourmin=fmt, hours=fmt, days=fmt, months=fmt, years=fmt, context=None)
xa.major_tick_out, xa.major_tick_in = 6, 0
xa.minor_tick_out, xa.minor_tick_in = 3, 0
xa.major_label_standoff = 7
xa.major_label_text_font = FONT
xa.major_label_text_font_size = TICK_SIZE
xa.major_label_text_color = "black"
xa.axis_line_width = 1.3
xa.major_tick_line_width = 1.2
xa.minor_tick_line_width = 1.0
xa.axis_line_color = "#222222"

# shaded spans + dots of the bottom panel
shades = [(shade_gray, "#000000", .2), (shade_blue, "#1f77b4", .2), (shade_red, "#d62728", .2)]
for (a, b), c, al in shades:
    p.quad(left=float(X(a)), right=float(X(b)), bottom=0, top=1, fill_color=c, fill_alpha=al, line_color=c, line_alpha=al)
sig_t = [t for t, _ in sigma_pts] + sigma_top_row_t
sig_v = [v for _, v in sigma_pts] + sigma_top_row_v
p.scatter(X(sig_t), sig_v, y_range_name="sig", size=6.2, color=PURPLE, line_color=None)
# the dots stop at the edges of their panel
p.quad(left=X0, right=X14, bottom=1, top=1.08, fill_color="white", line_color=None)
p.quad(left=X0, right=X14, bottom=-.08, top=0, fill_color="white", line_color=None)
p.quad(left=float(X(-.05)), right=X0, bottom=0, top=1, fill_color="white", line_color=None)
p.quad(left=X14, right=float(X(14.05)), bottom=0, top=1, fill_color="white", line_color=None)
for (a, b), c, al in shades:
    p.quad(left=float(X(a)), right=float(X(b)), bottom=1, top=9.01, fill_color=c, fill_alpha=al, line_color=c, line_alpha=al)

def expand(seg):
    xs, ys = [], []
    for (t0, v0), (t1, _) in zip(seg[:-1], seg[1:]):
        xs += [t0, t1]
        ys += [v0, v0]
    return np.array(xs), np.array(ys)

def lookup(tbl, t):
    cur = tbl[0]
    for row in tbl:
        if row[0] <= t:
            cur = row
    return cur

def cloud(segs, spread, spikes, key, light, is_log):
    conv = (lambda a: 10.0**np.asarray(a)) if is_log else (lambda a: np.asarray(a))
    for seg in segs:
        xs, ys = expand(seg)
        # a thin outer halo and a dense core
        for k, al in ((1.7, .38), (1.0, .85)):
            lo = [y - k*lookup(spread, t)[1] for t, y in zip(xs, ys)]
            hi = [y + k*lookup(spread, t)[2] for t, y in zip(xs, ys)]
            p.varea(x=X(xs), y1=conv(lo), y2=conv(hi), y_range_name=key, fill_color=light, fill_alpha=al)
    flat = sorted(pt for seg in segs for pt in seg)
    st = [t for t, _ in spikes]
    sv = [v for _, v in spikes]
    base = [lookup(flat, t)[1] for t in st]
    p.segment(x0=X(st), x1=X(st), y0=conv(base), y1=conv(sv), y_range_name=key, line_color=light,
              line_width=3, line_dash="3 2")
    p.scatter(X(st), conv(sv), y_range_name=key, size=3.4, color=light, line_color=None)

def steps(segs, key, color, is_log):
    conv = (lambda a: 10.0**np.asarray(a)) if is_log else (lambda a: np.asarray(a))
    for seg in segs:
        xs, ys = expand(seg)
        p.line(X(xs), conv(ys), y_range_name=key, line_color=color, line_width=2.4, line_join="miter")

vx_segs = [vx_seg1, vx_seg2, vx_seg3, vx_seg4, vx_seg5, vx_seg6]
n_segs = [n_seg1, n_seg2, n_seg3, n_seg4, n_seg5, n_seg6]
tpar_p = [tpar_p_seg1, tpar_p_seg2, tpar_p_seg3, tpar_p_seg4, tpar_p_seg5, tpar_p_seg6]
tperp_p = [tperp_p_seg1, tperp_p_seg2, tperp_p_seg3, tperp_p_seg4, tperp_p_seg5, tperp_p_seg6]
a_tpar = [a_tpar_seg1, a_tpar_seg2, a_tpar_seg3, a_tpar_seg4, a_tpar_seg5, a_tpar_seg6, a_tpar_seg7, a_tpar_seg8, a_tpar_seg9,
          a_tpar_seg10, a_tpar_seg11, a_tpar_seg12, a_tpar_seg13, a_tpar_seg14, a_tpar_seg15, a_tpar_seg16, a_tpar_seg17]
a_tperp = [a_tperp_seg1, a_tperp_seg2, a_tperp_seg3, a_tperp_seg4, a_tperp_seg5, a_tperp_seg6, a_tperp_seg7, a_tperp_seg8, a_tperp_seg9,
           a_tperp_seg10, a_tperp_seg11, a_tperp_seg12, a_tperp_seg13, a_tperp_seg14, a_tperp_seg15, a_tperp_seg16, a_tperp_seg17]

cloud(a_tpar, a_tpar_spread, a_tpar_spikes, "tpar", L_PURPLE, True)
cloud(a_tperp, a_tperp_spread, a_tperp_spikes, "tperp", L_PURPLE, True)
cloud(vx_segs, vx_spread, vx_spikes, "vx", L_GREEN, False)
cloud(n_segs, n_spread, n_spikes, "n", L_GREEN, True)
cloud(tpar_p, tpar_p_spread, tpar_p_spikes, "tpar", L_GREEN, True)
cloud(tperp_p, tperp_p_spread, tperp_p_spikes, "tperp", L_GREEN, True)

steps(a_tpar, "tpar", PURPLE, True)
steps(a_tperp, "tperp", PURPLE, True)
steps(vx_segs, "vx", GREEN, False)
steps(n_segs, "n", GREEN, True)
steps(tpar_p, "tpar", GREEN, True)
steps(tperp_p, "tperp", GREEN, True)

p.line(X([t for t, _ in r_au]), [v for _, v in r_au], y_range_name="r", line_color="black", line_width=1.6)

seps = [9, 7, 5, 3, 1]
p.segment(x0=[X0]*5, x1=[X14]*5, y0=seps, y1=seps, line_color="#222222", line_width=1.4)

# real text: label coordinates are measured from the page's lower-left corner
def txt(s, x_px, y_px, size="23.4px", style="normal", angle=0.0, align="left", base="middle"):
    p.add_layout(Label(x=x_px, y=H-y_px, x_units="screen", y_units="screen", text=s, angle=angle, angle_units="rad",
                       text_font=FONT, text_font_size=size, text_font_style=style, text_color="black",
                       text_align=align, text_baseline=base))

R = math.pi/2
SUB = "16.5px"
txt("Proton (green) and alpha particle (purple) parameter timeseries", 852, 22, align="center")
txt("Date (YYYY-MM-DD)", 852, 816, align="center")
txt("r (AU)", 27, 76, angle=R, align="center")
txt("v", 27, 237, style="italic", angle=R)
txt("x", 33, 224, size=SUB, style="italic", angle=R)
txt("(km/s)", 27, 208, angle=R)
txt("n", 27, 380, style="italic", angle=R)
txt("(cm", 27, 356, angle=R)
txt("−3", 21, 311, size=SUB, angle=R)
txt(")", 27, 288, angle=R)
txt("T", 23, 510, style="italic", angle=R)
txt("∥", 30, 497, size=SUB, angle=R)
txt("(K)", 23, 476, angle=R)
txt("T", 27, 658, style="italic", angle=R)
txt("⊥", 34, 645, size=SUB, angle=R)
txt("(K)", 27, 622, angle=R)
txt("|", 25, 751, angle=R)
txt("σ", 25, 743, style="italic", angle=R)
txt("c", 31, 729, size=SUB, style="italic", angle=R)
txt("|", 25, 719, angle=R)

open("out.html", "w").write(file_html(p, INLINE))
